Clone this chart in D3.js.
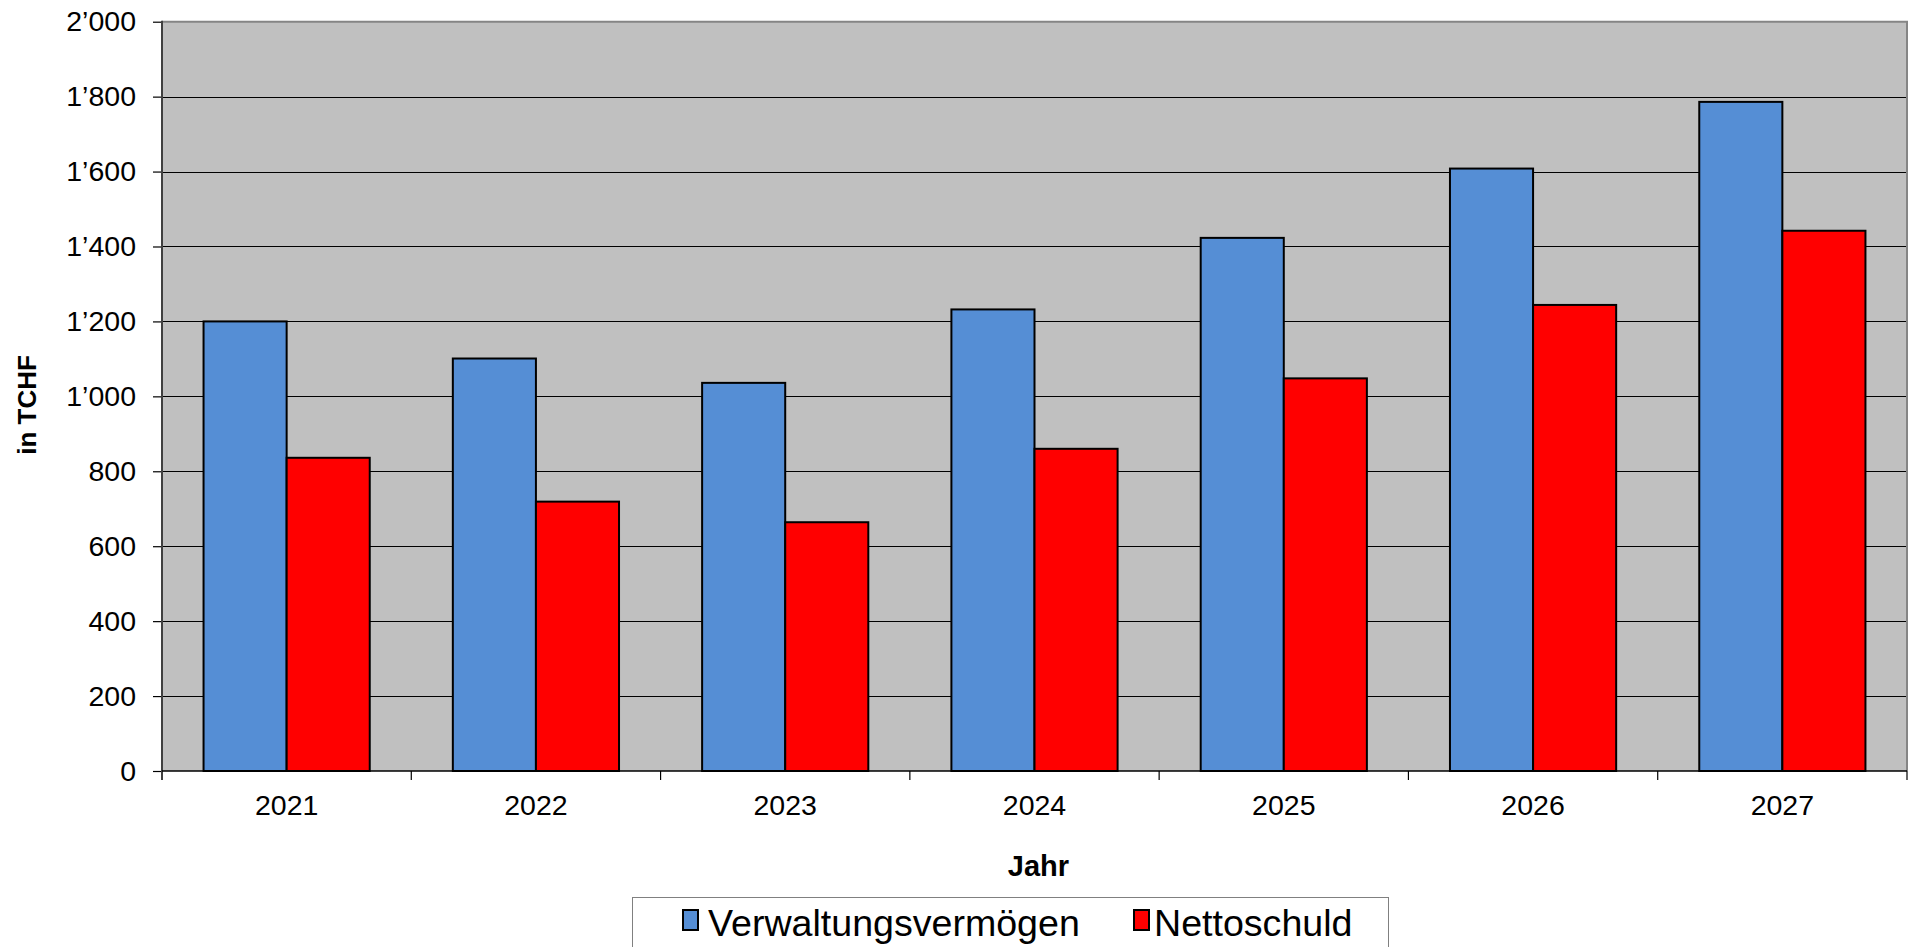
<!DOCTYPE html>
<html>
<head>
<meta charset="utf-8">
<script src="https://cdn.jsdelivr.net/npm/d3@7/dist/d3.min.js"></script>
<style>
  html, body { margin: 0; padding: 0; background: #ffffff; }
  svg { display: block; }
  text { font-family: "Liberation Sans", Arial, sans-serif; fill: #000; }
</style>
</head>
<body>
<svg id="chart" width="1914" height="947"></svg>
<script>
// ---- data ----
const years = ["2021", "2022", "2023", "2024", "2025", "2026", "2027"];
const seriesNames = ["Verwaltungsvermögen", "Nettoschuld"];
const verwaltungsvermoegen = [1200, 1101, 1036, 1232, 1423, 1608, 1786];
const nettoschuld = [836, 719, 664, 860, 1048, 1244, 1442];
const seriesColors = ["#558ED5", "#FF0000"];
const yTicks = [0, 200, 400, 600, 800, 1000, 1200, 1400, 1600, 1800, 2000];
const yAxisTitle = "in TCHF";
const xAxisTitle = "Jahr";

// ---- layout ----
const plot = { left: 162, right: 1907, top: 21.7, bottom: 771 };
const svg = d3.select("#chart");

const x0 = d3.scaleBand().domain(years)
  .range([plot.left, plot.right])
  .paddingInner(1 / 3).paddingOuter(1 / 6);
const x1 = d3.scaleBand().domain(seriesNames).range([0, x0.bandwidth()]);
const y = d3.scaleLinear().domain([0, 2000]).range([plot.bottom, plot.top]);
const color = d3.scaleOrdinal().domain(seriesNames).range(seriesColors);

const locale = d3.formatLocale({ decimal: ".", thousands: "\u2019", grouping: [3], currency: ["", ""] });
const fmt = locale.format(",");

// plot background
svg.append("rect")
  .attr("x", plot.left).attr("y", plot.top)
  .attr("width", plot.right - plot.left).attr("height", plot.bottom - plot.top)
  .attr("fill", "#C0C0C0");

// gridlines
svg.append("g").selectAll("line")
  .data(yTicks.filter(v => v > 0 && v < 2000))
  .join("line")
  .attr("x1", plot.left).attr("x2", plot.right)
  .attr("y1", d => Math.round(y(d)) + 0.5).attr("y2", d => Math.round(y(d)) + 0.5)
  .attr("stroke", "#000").attr("stroke-width", 1);

// top & right border
svg.append("path")
  .attr("d", `M${plot.left},${plot.top}H${plot.right}V${plot.bottom}`)
  .attr("fill", "none").attr("stroke", "#858585").attr("stroke-width", 2);

// bars
const rows = years.map((yr, i) => ({ year: yr, values: [
  { key: seriesNames[0], value: verwaltungsvermoegen[i] },
  { key: seriesNames[1], value: nettoschuld[i] }
]}));

svg.append("g").selectAll("g")
  .data(rows).join("g")
  .attr("transform", d => `translate(${x0(d.year)},0)`)
  .selectAll("rect")
  .data(d => d.values).join("rect")
  .attr("x", d => x1(d.key))
  .attr("y", d => y(d.value))
  .attr("width", x1.bandwidth())
  .attr("height", d => y(0) - y(d.value))
  .attr("fill", d => color(d.key))
  .attr("stroke", "#000").attr("stroke-width", 2);

// y axis
const yAxis = svg.append("g")
  .attr("transform", `translate(${plot.left},0)`)
  .call(d3.axisLeft(y).tickValues(yTicks).tickFormat(fmt).tickSize(9).tickPadding(17));
yAxis.select(".domain").remove();
yAxis.selectAll(".tick line").attr("stroke", "#000").attr("stroke-width", 1.2);
yAxis.selectAll("text")
  .style("font-family", "'Liberation Sans', Arial, sans-serif")
  .style("font-size", "28.5px").attr("fill", "#000");
svg.append("line")
  .attr("x1", plot.left).attr("x2", plot.left)
  .attr("y1", plot.top - 1).attr("y2", plot.bottom + 9)
  .attr("stroke", "#404040").attr("stroke-width", 2);

// x axis
svg.append("line")
  .attr("x1", plot.left).attr("x2", plot.right)
  .attr("y1", plot.bottom).attr("y2", plot.bottom)
  .attr("stroke", "#000").attr("stroke-width", 1.5);
const boundaries = years.map(d => x0(d) - (x0.step() - x0.bandwidth()) / 2).concat([plot.right]);
svg.append("g").selectAll("line")
  .data(boundaries.slice(1)).join("line")
  .attr("x1", d => d).attr("x2", d => d)
  .attr("y1", plot.bottom).attr("y2", plot.bottom + 9)
  .attr("stroke", "#000").attr("stroke-width", 1.2);

const xAxis = svg.append("g")
  .attr("transform", `translate(0,${plot.bottom})`)
  .call(d3.axisBottom(x0).tickSize(0).tickPadding(24));
xAxis.select(".domain").remove();
xAxis.selectAll("text")
  .style("font-family", "'Liberation Sans', Arial, sans-serif")
  .style("font-size", "28.5px").attr("fill", "#000");

// axis titles
svg.append("text")
  .attr("transform", `translate(${36},${405}) rotate(-90)`)
  .attr("text-anchor", "middle")
  .style("font-size", "26px").style("font-weight", "bold")
  .text(yAxisTitle);

svg.append("text")
  .attr("x", (plot.left + plot.right) / 2 + 4).attr("y", 876)
  .attr("text-anchor", "middle")
  .style("font-size", "29px").style("font-weight", "bold")
  .text(xAxisTitle);

// legend
const legend = svg.append("g");
legend.append("rect")
  .attr("x", 632.5).attr("y", 897.5).attr("width", 756).attr("height", 80)
  .attr("fill", "#fff").attr("stroke", "#808080").attr("stroke-width", 1);
const legendItems = [
  { key: seriesNames[0], sx: 683, tx: 708 },
  { key: seriesNames[1], sx: 1134, tx: 1154 }
];
const li = legend.selectAll("g.item").data(legendItems).join("g").attr("class", "item");
li.append("rect")
  .attr("x", d => d.sx).attr("y", 910).attr("width", 15).attr("height", 20)
  .attr("fill", d => color(d.key)).attr("stroke", "#000").attr("stroke-width", 2);
li.append("text")
  .attr("x", d => d.tx).attr("y", 936)
  .style("font-size", "37.6px")
  .text(d => d.key);
</script>
</body>
</html>
